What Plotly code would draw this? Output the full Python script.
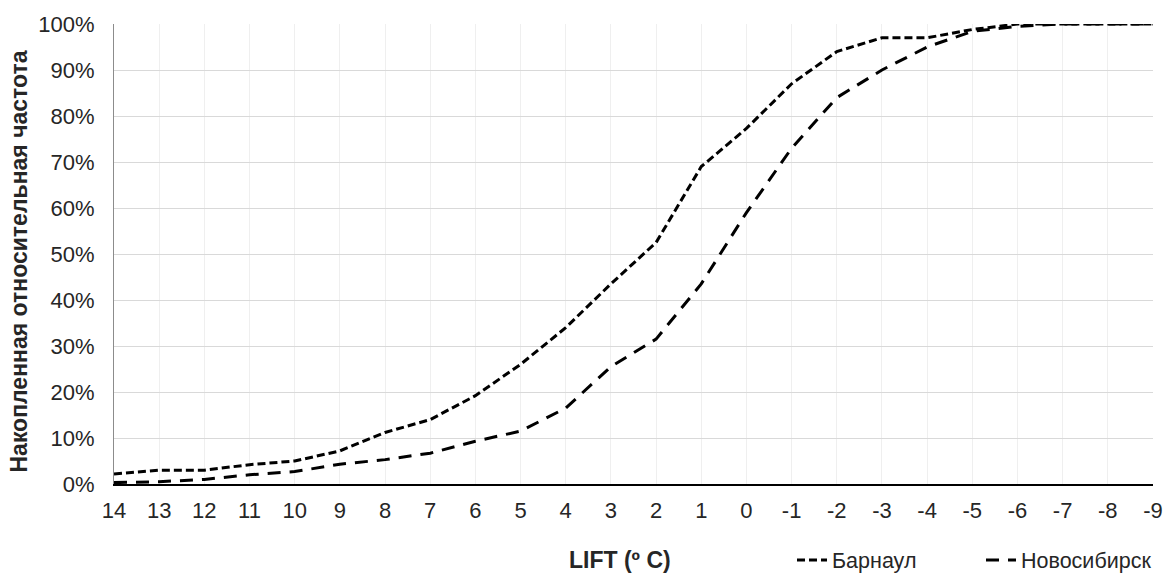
import plotly.graph_objects as go

lift = [14, 13, 12, 11, 10, 9, 8, 7, 6, 5, 4, 3, 2, 1, 0, -1, -2, -3, -4, -5, -6, -7, -8, -9]
barnaul = [2.2, 3.0, 3.0, 4.2, 5.0, 7.2, 11.2, 14.0, 19.2, 26.0, 34.0, 43.5, 52.5, 69.0, 77.3, 87.0, 94.0, 97.0, 97.0, 98.8, 100, 100, 100, 100]
novosib = [0.3, 0.5, 1.0, 2.0, 2.7, 4.3, 5.3, 6.7, 9.3, 11.5, 16.5, 25.5, 31.5, 43.5, 59.0, 73.0, 84.0, 90.0, 95.0, 98.4, 99.5, 100, 100, 100]
yticks = list(range(0, 101, 10))

font = "Liberation Sans, Arial, sans-serif"

fig = go.Figure()
fig.add_trace(go.Scatter(x=lift, y=barnaul, mode="lines", name="Барнаул",
                         line=dict(color="black", width=3, dash="8px,4px")))
fig.add_trace(go.Scatter(x=lift, y=novosib, mode="lines", name="Новосибирск",
                         line=dict(color="black", width=3, dash="13px,9px")))

fig.update_layout(
    width=1163, height=576,
    margin=dict(l=114, r=10, t=24, b=92, autoexpand=False),
    paper_bgcolor="white", plot_bgcolor="white",
    font=dict(family=font, size=22, color="#262626"),
    showlegend=True,
    legend=dict(orientation="h", x=792 / 1163, xanchor="left", xref="container",
                y=(576 - 560) / 576, yanchor="middle", yref="container",
                font=dict(size=21.5, color="#262626"), itemwidth=30,
                entrywidth=144, entrywidthmode="pixels",
                bgcolor="rgba(0,0,0,0)", tracegroupgap=0),
    xaxis=dict(range=[14, -9], tickmode="array", tickvals=lift,
               ticktext=[str(v) for v in lift], automargin=False,
               showgrid=True, gridcolor="#efefef", gridwidth=1,
               showline=True, linecolor="black", linewidth=1.5,
               zeroline=False, ticks="", ticklabelstandoff=6,
               tickfont=dict(size=22, color="#262626")),
    yaxis=dict(range=[0, 100], tickmode="array", tickvals=yticks,
               ticktext=[f"{v}%" for v in yticks], automargin=False,
               showgrid=True, gridcolor="#d9d9d9", gridwidth=1,
               showline=True, linecolor="#8c8c8c", linewidth=1,
               zeroline=False, ticks="", ticklabelstandoff=14,
               tickfont=dict(size=22, color="#262626")),
    annotations=[
        dict(text="<b>LIFT (º C)</b>", xref="paper", yref="paper",
             x=(620 - 114) / (1153 - 114), y=-0.165, xanchor="center", yanchor="middle",
             showarrow=False, font=dict(size=23, color="#262626")),
        dict(text="<b>Накопленная относительная частота</b>", xref="paper", yref="paper",
             x=(18.5 - 114) / (1153 - 114), y=(484 - 262) / 460, xanchor="center",
             yanchor="middle", textangle=-90,
             showarrow=False, font=dict(size=23, color="#262626")),
    ],
)

fig.write_html("out.html")
